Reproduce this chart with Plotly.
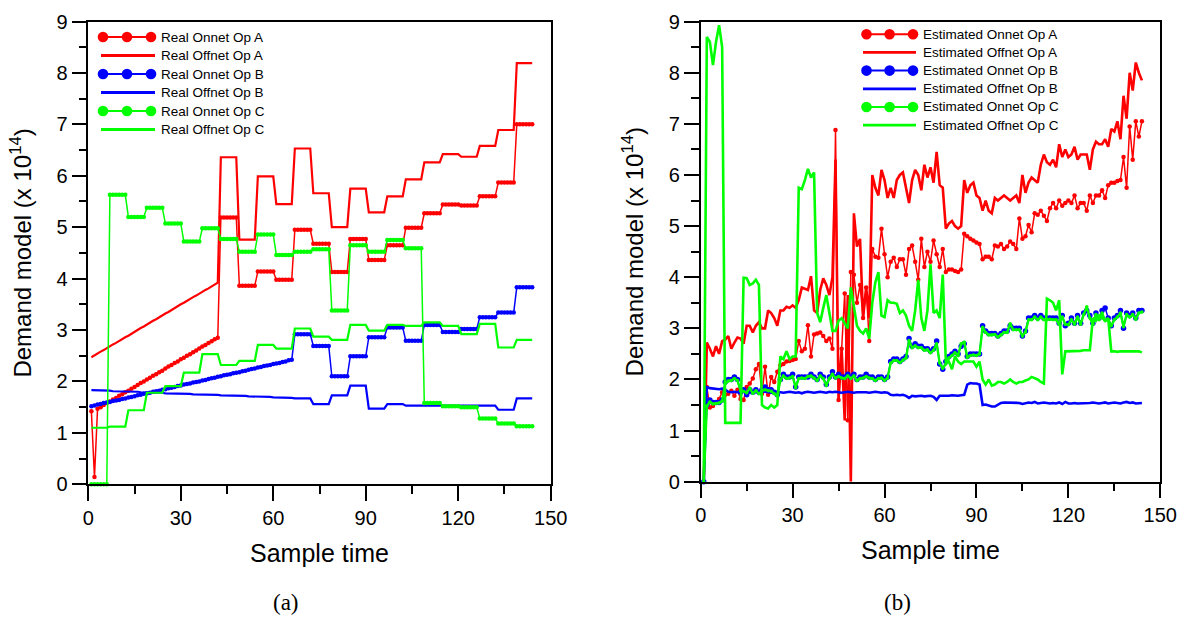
import plotly.graph_objects as go

W, H = 1184, 617
sample_time = list(range(1, 145))

# ---------------- (a) Real demand ----------------
real_onnet_a = [
    1.42, 0.14, 1.47, 1.50, 1.54, 1.58,
    1.61, 1.65, 1.68, 1.72, 1.75, 1.79,
    1.82, 1.86, 1.89, 1.93, 1.97, 2.00,
    2.04, 2.07, 2.11, 2.14, 2.18, 2.21,
    2.25, 2.29, 2.32, 2.36, 2.39, 2.43,
    2.46, 2.50, 2.53, 2.57, 2.60, 2.64,
    2.68, 2.71, 2.75, 2.78, 2.82, 2.85,
    5.19, 5.19, 5.19, 5.19, 5.19, 5.19,
    3.86, 3.86, 3.86, 3.86, 3.86, 3.86,
    4.14, 4.14, 4.14, 4.14, 4.14, 4.14,
    3.98, 3.98, 3.98, 3.98, 3.98, 3.98,
    4.95, 4.95, 4.95, 4.95, 4.95, 4.95,
    4.68, 4.68, 4.68, 4.68, 4.68, 4.68,
    4.13, 4.13, 4.13, 4.13, 4.13, 4.13,
    4.77, 4.77, 4.77, 4.77, 4.77, 4.77,
    4.36, 4.36, 4.36, 4.36, 4.36, 4.36,
    4.65, 4.65, 4.65, 4.65, 4.65, 4.65,
    4.99, 4.99, 4.99, 4.99, 4.99, 4.99,
    5.27, 5.27, 5.27, 5.27, 5.27, 5.27,
    5.44, 5.44, 5.44, 5.44, 5.44, 5.44,
    5.42, 5.42, 5.42, 5.42, 5.42, 5.42,
    5.60, 5.60, 5.60, 5.60, 5.60, 5.60,
    5.87, 5.87, 5.87, 5.87, 5.87, 5.87,
    7.00, 7.00, 7.00, 7.00, 7.00, 7.00,
]
real_offnet_a = [
    2.47, 2.51, 2.54, 2.58, 2.61, 2.65,
    2.68, 2.72, 2.75, 2.79, 2.82, 2.86,
    2.89, 2.93, 2.97, 3.00, 3.04, 3.07,
    3.11, 3.14, 3.18, 3.21, 3.25, 3.28,
    3.32, 3.35, 3.39, 3.42, 3.46, 3.50,
    3.53, 3.57, 3.60, 3.64, 3.67, 3.71,
    3.74, 3.78, 3.81, 3.85, 3.88, 3.92,
    6.36, 6.36, 6.36, 6.36, 6.36, 6.36,
    4.76, 4.76, 4.76, 4.76, 4.76, 4.76,
    5.99, 5.99, 5.99, 5.99, 5.99, 5.99,
    5.45, 5.45, 5.45, 5.45, 5.45, 5.45,
    6.53, 6.53, 6.53, 6.53, 6.53, 6.53,
    5.66, 5.66, 5.66, 5.66, 5.66, 5.66,
    5.00, 5.00, 5.00, 5.00, 5.00, 5.00,
    5.75, 5.75, 5.75, 5.75, 5.75, 5.75,
    5.29, 5.29, 5.29, 5.29, 5.29, 5.29,
    5.60, 5.60, 5.60, 5.60, 5.60, 5.60,
    5.93, 5.93, 5.93, 5.93, 5.93, 5.93,
    6.26, 6.26, 6.26, 6.26, 6.26, 6.26,
    6.42, 6.42, 6.42, 6.42, 6.42, 6.42,
    6.37, 6.37, 6.37, 6.37, 6.37, 6.37,
    6.58, 6.58, 6.58, 6.58, 6.58, 6.58,
    6.89, 6.89, 6.89, 6.89, 6.89, 6.89,
    8.19, 8.19, 8.19, 8.19, 8.19, 8.19,
]
real_onnet_b = [
    1.52, 1.53, 1.55, 1.56, 1.58, 1.59,
    1.60, 1.62, 1.63, 1.64, 1.66, 1.67,
    1.69, 1.70, 1.71, 1.73, 1.74, 1.76,
    1.77, 1.78, 1.80, 1.81, 1.82, 1.84,
    1.85, 1.87, 1.88, 1.89, 1.91, 1.92,
    1.94, 1.95, 1.96, 1.98, 1.99, 2.00,
    2.02, 2.03, 2.05, 2.06, 2.07, 2.09,
    2.10, 2.12, 2.13, 2.14, 2.16, 2.17,
    2.18, 2.20, 2.21, 2.23, 2.24, 2.25,
    2.27, 2.28, 2.30, 2.31, 2.32, 2.34,
    2.35, 2.36, 2.38, 2.39, 2.41, 2.42,
    2.92, 2.92, 2.92, 2.92, 2.92, 2.92,
    2.69, 2.69, 2.69, 2.69, 2.69, 2.69,
    2.10, 2.10, 2.10, 2.10, 2.10, 2.10,
    2.49, 2.49, 2.49, 2.49, 2.49, 2.49,
    2.86, 2.86, 2.86, 2.86, 2.86, 2.86,
    3.05, 3.05, 3.05, 3.05, 3.05, 3.05,
    2.79, 2.79, 2.79, 2.79, 2.79, 2.79,
    3.10, 3.10, 3.10, 3.10, 3.10, 3.10,
    2.96, 2.96, 2.96, 2.96, 2.96, 2.96,
    3.02, 3.02, 3.02, 3.02, 3.02, 3.02,
    3.25, 3.25, 3.25, 3.25, 3.25, 3.25,
    3.34, 3.34, 3.34, 3.34, 3.34, 3.34,
    3.83, 3.83, 3.83, 3.83, 3.83, 3.83,
]
real_offnet_b = [
    1.83, 1.83, 1.83, 1.82, 1.82, 1.82,
    1.82, 1.81, 1.81, 1.81, 1.81, 1.80,
    1.80, 1.80, 1.80, 1.80, 1.79, 1.79,
    1.79, 1.79, 1.78, 1.78, 1.78, 1.78,
    1.77, 1.77, 1.77, 1.77, 1.77, 1.76,
    1.76, 1.76, 1.76, 1.75, 1.75, 1.75,
    1.75, 1.74, 1.74, 1.74, 1.74, 1.74,
    1.73, 1.73, 1.73, 1.73, 1.72, 1.72,
    1.72, 1.72, 1.72, 1.71, 1.71, 1.71,
    1.71, 1.70, 1.70, 1.70, 1.70, 1.69,
    1.69, 1.69, 1.69, 1.69, 1.68, 1.68,
    1.67, 1.67, 1.67, 1.67, 1.67, 1.67,
    1.56, 1.56, 1.56, 1.56, 1.56, 1.56,
    1.73, 1.73, 1.73, 1.73, 1.73, 1.73,
    1.92, 1.92, 1.92, 1.92, 1.92, 1.92,
    1.47, 1.47, 1.47, 1.47, 1.47, 1.47,
    1.56, 1.56, 1.56, 1.56, 1.56, 1.56,
    1.53, 1.53, 1.53, 1.53, 1.53, 1.53,
    1.53, 1.53, 1.53, 1.53, 1.53, 1.53,
    1.53, 1.53, 1.53, 1.53, 1.53, 1.53,
    1.53, 1.53, 1.53, 1.53, 1.53, 1.53,
    1.53, 1.53, 1.53, 1.53, 1.53, 1.53,
    1.45, 1.45, 1.45, 1.45, 1.45, 1.45,
    1.67, 1.67, 1.67, 1.67, 1.67, 1.67,
]
real_onnet_c = [
    0.00, 0.00, 0.00, 0.00, 0.00, 0.00,
    5.63, 5.63, 5.63, 5.63, 5.63, 5.63,
    5.20, 5.20, 5.20, 5.20, 5.20, 5.20,
    5.38, 5.38, 5.38, 5.38, 5.38, 5.38,
    5.07, 5.07, 5.07, 5.07, 5.07, 5.07,
    4.72, 4.72, 4.72, 4.72, 4.72, 4.72,
    4.98, 4.98, 4.98, 4.98, 4.98, 4.98,
    4.77, 4.77, 4.77, 4.77, 4.77, 4.77,
    4.52, 4.52, 4.52, 4.52, 4.52, 4.52,
    4.86, 4.86, 4.86, 4.86, 4.86, 4.86,
    4.46, 4.46, 4.46, 4.46, 4.46, 4.46,
    4.52, 4.52, 4.52, 4.52, 4.52, 4.52,
    4.57, 4.57, 4.57, 4.57, 4.57, 4.57,
    3.38, 3.38, 3.38, 3.38, 3.38, 3.38,
    4.65, 4.65, 4.65, 4.65, 4.65, 4.65,
    4.52, 4.52, 4.52, 4.52, 4.52, 4.52,
    4.75, 4.75, 4.75, 4.75, 4.75, 4.75,
    4.59, 4.59, 4.59, 4.59, 4.59, 4.59,
    1.58, 1.58, 1.58, 1.58, 1.58, 1.58,
    1.52, 1.52, 1.52, 1.52, 1.52, 1.52,
    1.50, 1.50, 1.50, 1.50, 1.50, 1.50,
    1.28, 1.28, 1.28, 1.28, 1.28, 1.28,
    1.18, 1.18, 1.18, 1.18, 1.18, 1.18,
    1.13, 1.13, 1.13, 1.13, 1.13, 1.13,
]
real_offnet_c = [
    1.10, 1.10, 1.10, 1.10, 1.10, 1.10,
    1.12, 1.12, 1.12, 1.12, 1.12, 1.12,
    1.44, 1.44, 1.44, 1.44, 1.44, 1.44,
    1.78, 1.78, 1.78, 1.78, 1.78, 1.78,
    1.91, 1.91, 1.91, 1.91, 1.91, 1.91,
    2.17, 2.17, 2.17, 2.17, 2.17, 2.17,
    2.53, 2.53, 2.53, 2.53, 2.53, 2.53,
    2.32, 2.32, 2.32, 2.32, 2.32, 2.32,
    2.40, 2.40, 2.40, 2.40, 2.40, 2.40,
    2.71, 2.71, 2.71, 2.71, 2.71, 2.71,
    2.64, 2.64, 2.64, 2.64, 2.64, 2.64,
    3.03, 3.03, 3.03, 3.03, 3.03, 3.03,
    2.87, 2.87, 2.87, 2.87, 2.87, 2.87,
    2.81, 2.81, 2.81, 2.81, 2.81, 2.81,
    3.10, 3.10, 3.10, 3.10, 3.10, 3.10,
    2.99, 2.99, 2.99, 2.99, 2.99, 2.99,
    3.10, 3.10, 3.10, 3.10, 3.10, 3.10,
    3.08, 3.08, 3.08, 3.08, 3.08, 3.08,
    3.15, 3.15, 3.15, 3.15, 3.15, 3.15,
    3.08, 3.08, 3.08, 3.08, 3.08, 3.08,
    2.92, 2.92, 2.92, 2.92, 2.92, 2.92,
    3.12, 3.12, 3.12, 3.12, 3.12, 3.12,
    2.66, 2.66, 2.66, 2.66, 2.66, 2.66,
    2.81, 2.81, 2.81, 2.81, 2.81, 2.81,
]

# ---------------- (b) Estimated demand ----------------
est_onnet_a = [
    0.00, 1.85, 1.45, 1.48, 1.55, 1.62, 1.75, 1.70, 1.72, 1.78, 1.68, 1.80,
    1.62, 1.60, 1.85, 1.92, 2.02, 2.20, 2.30, 1.72, 2.25, 1.70, 2.05, 1.95,
    2.15, 2.28, 2.30, 2.35, 2.36, 2.38, 2.40, 2.75, 2.55, 2.60, 3.06, 2.45,
    2.88, 2.90, 2.92, 2.85, 2.75, 2.80, 2.60, 6.88, 1.60, 2.60, 3.68, 1.20,
    4.10, 4.05, 3.50, 3.85, 3.20, 3.80, 2.75, 4.55, 4.40, 4.38, 4.95, 4.45,
    4.00, 4.30, 4.38, 4.20, 4.35, 4.35, 4.05, 4.55, 4.62, 4.30, 3.95, 4.75,
    4.20, 4.50, 4.30, 4.72, 4.45, 4.20, 4.55, 4.10, 4.15, 4.15, 4.12, 4.10,
    4.15, 4.85, 4.80, 4.75, 4.72, 4.68, 4.65, 4.35, 4.40, 4.40, 4.35, 4.62,
    4.60, 4.65, 4.55, 4.60, 4.70, 4.65, 4.55, 5.15, 4.75, 4.80, 5.02, 4.88,
    5.25, 5.22, 5.30, 5.20, 5.10, 5.35, 5.45, 5.35, 5.50, 5.40, 5.45, 5.50,
    5.45, 5.60, 5.35, 5.45, 5.45, 5.30, 5.60, 5.45, 5.60, 5.60, 5.70, 5.55,
    5.80, 5.85, 5.85, 5.88, 5.90, 6.35, 5.75, 6.95, 6.30, 7.05, 6.75, 7.05,
]
est_offnet_a = [
    0.00, 2.72, 2.60, 2.45, 2.65, 2.50, 2.75, 2.78, 2.85, 2.60, 2.72, 2.82,
    2.80, 2.70, 3.05, 3.05, 2.92, 3.05, 3.12, 3.00, 3.00, 3.35, 3.30, 3.20,
    3.05, 3.35, 3.35, 3.42, 3.40, 3.45, 3.40, 3.55, 3.80, 3.78, 3.75, 4.02,
    3.35, 3.30, 3.75, 3.98, 3.85, 3.65, 4.00, 6.30, 1.60, 2.60, 1.20, 3.65,
    0.00, 5.25, 4.60, 4.75, 3.20, 3.80, 3.20, 6.00, 5.75, 5.60, 6.10, 5.90,
    5.55, 5.75, 5.55, 5.90, 6.00, 6.05, 5.75, 5.45, 5.90, 6.10, 6.00, 5.70,
    6.20, 5.95, 6.15, 5.85, 6.45, 5.80, 5.75, 4.95, 5.05, 5.10, 5.00, 4.95,
    5.00, 5.90, 5.65, 5.80, 5.85, 5.60, 5.55, 5.30, 5.50, 5.30, 5.25, 5.55,
    5.50, 5.55, 5.60, 5.55, 5.50, 5.55, 5.60, 5.45, 6.00, 5.65, 5.85, 5.95,
    5.90, 5.85, 6.20, 6.40, 6.25, 6.20, 6.30, 6.15, 6.60, 6.35, 6.50, 6.35,
    6.40, 6.55, 6.30, 6.40, 6.40, 6.40, 6.10, 6.50, 6.65, 6.60, 6.60, 6.70,
    6.55, 6.90, 6.85, 7.05, 6.70, 7.55, 7.10, 8.00, 7.65, 8.20, 8.00, 7.85,
]
est_onnet_b = [
    0.00, 1.50, 1.60, 1.55, 1.55, 1.55, 1.60, 1.95, 2.00, 2.00, 2.05, 2.00,
    1.75, 1.80, 1.70, 1.80, 1.75, 1.80, 1.75, 1.80, 1.85, 1.80, 1.80, 1.75,
    1.70, 2.00, 2.10, 2.05, 2.05, 2.10, 1.85, 2.05, 2.05, 2.05, 2.05, 2.10,
    2.05, 2.00, 2.10, 2.05, 1.90, 2.05, 2.15, 2.05, 2.10, 2.05, 2.05, 2.10,
    2.05, 2.10, 2.00, 2.05, 2.05, 2.10, 2.05, 2.05, 2.00, 2.05, 2.05, 2.00,
    2.05, 2.35, 2.40, 2.40, 2.35, 2.40, 2.45, 2.80, 2.65, 2.70, 2.65, 2.65,
    2.60, 2.60, 2.55, 2.60, 2.75, 2.30, 2.20, 2.35, 2.45, 2.50, 2.55, 2.50,
    2.65, 2.70, 2.45, 2.50, 2.50, 2.50, 2.50, 3.05, 2.95, 2.90, 2.90, 2.90,
    2.85, 2.90, 2.95, 2.95, 3.05, 3.00, 3.00, 3.00, 2.85, 2.95, 3.20, 3.20,
    3.25, 3.20, 3.25, 3.20, 3.20, 3.20, 3.20, 3.20, 3.10, 3.25, 3.05, 3.10,
    3.20, 3.10, 3.25, 3.10, 3.30, 3.35, 3.25, 3.10, 3.30, 3.20, 3.35, 3.40,
    3.20, 3.05, 3.20, 3.25, 3.35, 3.00, 3.30, 3.25, 3.30, 3.20, 3.35, 3.35,
]
est_offnet_b = [
    0.00, 1.85, 1.83, 1.82, 1.82, 1.81, 1.82, 1.80, 1.76, 1.75, 1.76, 1.75,
    1.74, 1.76, 1.75, 1.74, 1.76, 1.75, 1.76, 1.77, 1.76, 1.75, 1.74, 1.75,
    1.76, 1.75, 1.74, 1.75, 1.76, 1.75, 1.74, 1.75, 1.73, 1.75, 1.76, 1.75,
    1.74, 1.75, 1.76, 1.75, 1.74, 1.76, 1.75, 1.76, 1.75, 1.74, 1.75, 1.76,
    1.75, 1.74, 1.75, 1.75, 1.76, 1.75, 1.74, 1.75, 1.76, 1.75, 1.74, 1.75,
    1.74, 1.70, 1.69, 1.70, 1.69, 1.70, 1.68, 1.64, 1.68, 1.67, 1.68, 1.68,
    1.67, 1.68, 1.68, 1.66, 1.60, 1.68, 1.68, 1.67, 1.68, 1.69, 1.68, 1.68,
    1.69, 1.70, 1.90, 1.93, 1.92, 1.92, 1.90, 1.50, 1.51, 1.49, 1.47, 1.47,
    1.50, 1.54, 1.55, 1.55, 1.55, 1.54, 1.55, 1.54, 1.52, 1.53, 1.55, 1.54,
    1.56, 1.53, 1.54, 1.55, 1.54, 1.53, 1.54, 1.53, 1.55, 1.52, 1.56, 1.53,
    1.53, 1.54, 1.53, 1.53, 1.54, 1.53, 1.54, 1.55, 1.54, 1.53, 1.54, 1.55,
    1.53, 1.54, 1.55, 1.54, 1.53, 1.55, 1.56, 1.54, 1.55, 1.53, 1.54, 1.54,
]
est_onnet_c = [
    0.00, 1.48, 1.56, 1.52, 1.53, 1.54, 1.58, 1.92, 1.97, 1.98, 2.02, 1.98,
    1.78, 1.77, 1.74, 1.83, 1.73, 1.78, 1.72, 1.78, 1.80, 1.78, 1.77, 1.72,
    1.68, 1.98, 2.07, 2.02, 2.03, 2.06, 1.84, 2.02, 2.03, 2.02, 2.06, 2.07,
    2.03, 1.98, 2.07, 2.02, 1.88, 2.02, 2.10, 2.03, 2.06, 2.03, 2.02, 2.07,
    2.02, 2.07, 1.98, 2.02, 2.03, 2.06, 2.03, 2.02, 1.98, 2.02, 2.03, 1.98,
    2.03, 2.32, 2.37, 2.37, 2.33, 2.38, 2.42, 2.76, 2.62, 2.66, 2.62, 2.62,
    2.57, 2.58, 2.52, 2.57, 2.70, 2.32, 2.22, 2.30, 2.42, 2.47, 2.52, 2.47,
    2.70, 2.73, 2.43, 2.47, 2.48, 2.47, 2.50, 3.02, 2.92, 2.87, 2.87, 2.88,
    2.83, 2.87, 2.92, 2.92, 3.09, 2.97, 2.97, 2.97, 2.85, 2.93, 3.17, 3.17,
    3.22, 3.17, 3.22, 3.17, 3.17, 3.18, 3.17, 3.17, 3.08, 3.22, 3.08, 3.07,
    3.17, 3.08, 3.22, 3.08, 3.27, 3.42, 3.20, 3.08, 3.27, 3.17, 3.30, 3.15,
    3.17, 3.05, 3.17, 3.22, 3.30, 3.03, 3.27, 3.22, 3.27, 3.18, 3.30, 3.32,
]
est_offnet_c = [
    0.00, 8.70, 8.60, 8.15, 8.60, 8.93, 8.50, 1.15, 1.15, 1.15, 1.15, 1.15,
    1.15, 3.99, 3.98, 3.85, 3.88, 3.95, 3.85, 1.50, 1.45, 1.43, 1.50, 1.45,
    1.50, 2.45, 2.40, 2.55, 2.40, 2.45, 2.45, 5.75, 5.72, 5.90, 6.12, 5.95,
    6.05, 3.30, 3.12, 3.40, 3.65, 3.30, 2.95, 2.95, 3.15, 3.20, 3.10, 3.00,
    3.80, 3.40, 3.05, 2.95, 2.90, 3.00, 2.80, 3.50, 3.90, 4.10, 3.25, 3.22,
    3.55, 3.50, 3.50, 3.48, 3.30, 3.35, 3.25, 3.05, 2.95, 3.35, 3.95, 3.20,
    2.95, 3.35, 4.25, 3.30, 3.35, 3.20, 4.05, 2.35, 2.35, 2.20, 2.45, 2.35,
    2.30, 2.35, 2.35, 2.35, 2.35, 2.25, 2.35, 2.00, 1.90, 2.00, 1.88, 1.90,
    1.95, 1.95, 1.92, 1.95, 2.00, 1.95, 1.92, 1.95, 1.95, 1.98, 2.00, 2.05,
    2.02, 2.00, 1.95, 1.92, 3.58, 3.55, 3.50, 3.35, 3.55, 2.10, 2.55, 2.55,
    2.55, 2.55, 2.56, 2.56, 2.57, 2.57, 2.57, 3.20, 3.15, 3.25, 3.20, 3.15,
    3.20, 2.55, 2.55, 2.54, 2.55, 2.55, 2.56, 2.55, 2.55, 2.56, 2.55, 2.53,
]

for arr in (real_onnet_a, real_offnet_a, real_onnet_b, real_offnet_b, real_onnet_c,
            real_offnet_c, est_onnet_a, est_offnet_a, est_onnet_b, est_offnet_b,
            est_onnet_c, est_offnet_c):
    assert len(arr) == 144, len(arr)

x_ticks = [0, 30, 60, 90, 120, 150]
y_ticks = [0, 1, 2, 3, 4, 5, 6, 7, 8, 9]

RED, BLUE, GREEN = "#FF0000", "#0000FF", "#00FF00"
SANS = "Liberation Sans, Arial, sans-serif"
SERIF = "Liberation Serif, Times New Roman, serif"

real_names = ["Real Onnet Op A", "Real Offnet Op A", "Real Onnet Op B",
              "Real Offnet Op B", "Real Onnet Op C", "Real Offnet Op C"]
est_names = ["Estimated Onnet Op A", "Estimated Offnet Op A", "Estimated Onnet Op B",
             "Estimated Offnet Op B", "Estimated Onnet Op C", "Estimated Offnet Op C"]
colors = [RED, RED, BLUE, BLUE, GREEN, GREEN]
is_onnet = [True, False, True, False, True, False]

fig = go.Figure()

real_series = [real_onnet_a, real_offnet_a, real_onnet_b, real_offnet_b, real_onnet_c, real_offnet_c]
for name, ys, c, on in zip(real_names, real_series, colors, is_onnet):
    if on:
        fig.add_trace(go.Scatter(x=sample_time, y=ys, name=name, mode="lines+markers",
                                 line=dict(color=c, width=1.5), marker=dict(color=c, size=4.5),
                                 cliponaxis=False, showlegend=False, xaxis="x", yaxis="y"))
    else:
        fig.add_trace(go.Scatter(x=sample_time, y=ys, name=name, mode="lines",
                                 line=dict(color=c, width=2.2),
                                 showlegend=False, xaxis="x", yaxis="y"))

est_style = [
    dict(mode="lines+markers", line=dict(color=RED, width=1.5), marker=dict(color=RED, size=4.5)),
    dict(mode="lines", line=dict(color=RED, width=2.6)),
    dict(mode="lines+markers", line=dict(color=BLUE, width=1.5), marker=dict(color=BLUE, size=5.5)),
    dict(mode="lines", line=dict(color=BLUE, width=2.6)),
    dict(mode="lines+markers", line=dict(color=GREEN, width=2.4), marker=dict(color=GREEN, size=3.5)),
    dict(mode="lines", line=dict(color=GREEN, width=2.6)),
]
est_series = [est_onnet_a, est_offnet_a, est_onnet_b, est_offnet_b, est_onnet_c, est_offnet_c]
for name, ys, st in zip(est_names, est_series, est_style):
    fig.add_trace(go.Scatter(x=sample_time, y=ys, name=name, cliponaxis=False,
                             showlegend=False, xaxis="x2", yaxis="y2", **st))

def px(v):
    return v / W

def py(v):
    return 1 - v / H

axis_common = dict(
    showline=True, linecolor="black", linewidth=1.5, mirror=True,
    showgrid=False, zeroline=False, automargin=False,
    ticks="outside", ticklen=15, tickwidth=1.5, tickcolor="black",
    tickfont=dict(family=SANS, size=20, color="black"),
)
minor_x = dict(dtick=15, tick0=0, ticks="outside", ticklen=8, tickwidth=1.5, tickcolor="black")
minor_y = dict(dtick=0.5, tick0=0, ticks="outside", ticklen=8, tickwidth=1.5, tickcolor="black")
x_title = dict(text="Sample time", font=dict(family=SANS, size=25, color="black"), standoff=16)
y_title = dict(text="Demand model (x 10<sup>14</sup>)", font=dict(family=SANS, size=24, color="black"), standoff=18)

fig.update_layout(
    width=W, height=H,
    margin=dict(l=0, r=0, t=0, b=0, autoexpand=False),
    paper_bgcolor="white", plot_bgcolor="white",
    showlegend=False,
    xaxis=dict(domain=[px(88.3), px(550.7)], range=[0, 150], tickvals=x_ticks,
               minor=minor_x, title=x_title, anchor="y", **axis_common),
    yaxis=dict(domain=[py(484.3), py(21.5)], range=[0, 9], tickvals=y_ticks,
               minor=minor_y, title=y_title, anchor="x", **axis_common),
    xaxis2=dict(domain=[px(700.7), px(1160.3)], range=[0, 150], tickvals=x_ticks,
                minor=minor_x, title=x_title, anchor="y2", **axis_common),
    yaxis2=dict(domain=[py(481.7), py(21.6)], range=[0, 9], tickvals=y_ticks,
                minor=minor_y, title=y_title, anchor="x2", **axis_common),
)

# ---- custom legends (three-dot symbols as in the original) ----
def add_legend(names, line_x0, line_x1, dot_xs, text_x, row_y0, row_dy):
    for i, (name, c, on) in enumerate(zip(names, colors, is_onnet)):
        yy = row_y0 + i * row_dy
        fig.add_shape(type="line", xref="paper", yref="paper",
                      x0=px(line_x0), x1=px(line_x1), y0=py(yy), y1=py(yy),
                      line=dict(color=c, width=2 if on else 2.8))
        if on:
            r = 5.3
            for dx in dot_xs:
                fig.add_shape(type="circle", xref="paper", yref="paper",
                              x0=px(dx - r), x1=px(dx + r), y0=py(yy + r), y1=py(yy - r),
                              fillcolor=c, line=dict(color=c, width=0))
        fig.add_annotation(text=name, xref="paper", yref="paper", x=px(text_x), y=py(yy),
                           xanchor="left", yanchor="middle", showarrow=False,
                           font=dict(family=SANS, size=13.5, color="black"))

add_legend(real_names, 101, 155, [103, 127, 151], 159, 37.0, 18.5)
add_legend(est_names, 863, 916, [866.5, 889.6, 913], 921, 34.2, 18.2)

fig.add_annotation(text="(a)", xref="paper", yref="paper", x=px(286), y=py(602),
                   xanchor="center", yanchor="middle", showarrow=False,
                   font=dict(family=SERIF, size=23, color="black"))
fig.add_annotation(text="(b)", xref="paper", yref="paper", x=px(897), y=py(602),
                   xanchor="center", yanchor="middle", showarrow=False,
                   font=dict(family=SERIF, size=23, color="black"))

# remove the browser's default page margin so the 1184x617 figure fills the window exactly
fig.write_html("out.html", config={"displayModeBar": False},
               post_script="document.body.style.margin='0px';document.body.style.overflow='hidden';")
